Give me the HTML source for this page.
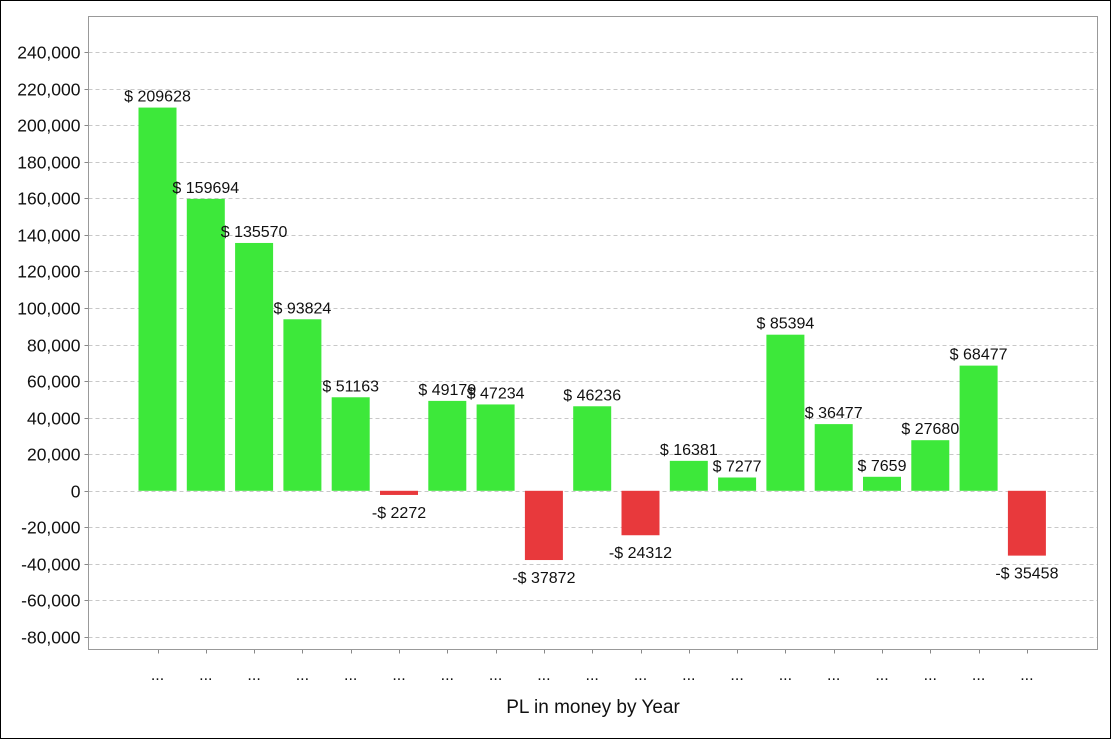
<!DOCTYPE html>
<html><head><style>
body{margin:0;background:#fff}
svg{display:block;font-family:"Liberation Sans",Arial,sans-serif}
</style></head><body>
<svg width="1111" height="739" xmlns="http://www.w3.org/2000/svg">
<rect x="0.5" y="0.5" width="1110" height="738" fill="#fff" stroke="#000"/>
<g id="g"></g>
</svg>
<script>
const g=document.getElementById('g');
const L=88.5,R=1097.5,T=16.5,B=649.5;
const y=v=>490.8-v*0.0018281;
let s='';
for(let v=-80000;v<=240000;v+=20000){
 const yy=Math.round(y(v))+0.5;
 s+=`<line x1="${L}" x2="${R}" y1="${yy}" y2="${yy}" stroke="#c8c8c8" stroke-dasharray="4,3"/>`;
 s+=`<line x1="${L-4}" x2="${L}" y1="${yy}" y2="${yy}" stroke="#888"/>`;
 s+=`<text x="${L-8}" y="${yy+6}" font-size="17.5" text-anchor="end" fill="#111">${v.toLocaleString('en-US')}</text>`;
}
const d=[209628,159694,135570,93824,51163,-2272,49179,47234,-37872,46236,-24312,16381,7277,85394,36477,7659,27680,68477,-35458];
d.forEach((v,i)=>{
 const cx=157.5+i*48.3;
 const y0=y(0),y1=y(v);
 const top=Math.min(y0,y1),h=Math.abs(y1-y0);
 s+=`<rect x="${cx-19}" y="${top}" width="38" height="${h}" fill="${v>=0?'#3de83a':'#e8393c'}"/>`;
 if(v>=0)s+=`<text x="${cx}" y="${y1-6}" font-size="16" text-anchor="middle" fill="#111">$ ${v}</text>`;
 else s+=`<text x="${cx}" y="${y1+23}" font-size="16" text-anchor="middle" fill="#111">-$ ${-v}</text>`;
 s+=`<line x1="${Math.round(cx)+0.5}" x2="${Math.round(cx)+0.5}" y1="${B}" y2="${B+4}" stroke="#888"/>`;
 s+=`<text x="${cx}" y="${680}" font-size="16" text-anchor="middle" fill="#111">...</text>`;
});
s+=`<rect x="${L}" y="${T}" width="${R-L}" height="${B-T}" fill="none" stroke="#999"/>`;
s+=`<text x="593" y="713" font-size="19" text-anchor="middle" fill="#111">PL in money by Year</text>`;
g.innerHTML=s;
</script>
</body></html>
